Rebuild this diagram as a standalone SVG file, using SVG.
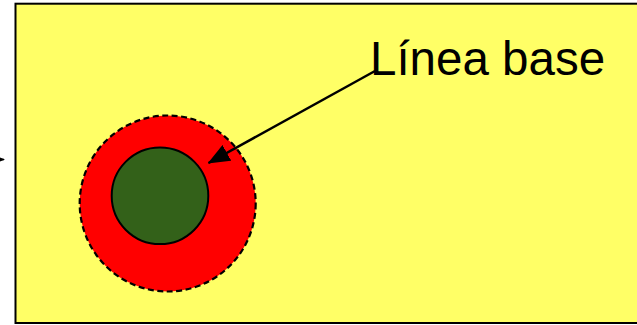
<svg xmlns="http://www.w3.org/2000/svg" width="637" height="325" viewBox="0 0 637 325">
<defs>
<marker id="ah" markerWidth="10" markerHeight="8" refX="9" refY="4" orient="auto" markerUnits="userSpaceOnUse">
<path d="M0,0 L10,4 L0,8 Z" fill="#000"/>
</marker>
<marker id="ah2" markerWidth="22" markerHeight="18" refX="21" refY="9" orient="auto" markerUnits="userSpaceOnUse">
<path d="M0,0 L22,9 L0,18 Z" fill="#000"/>
</marker>
<style>
.lbl{font-family:"Liberation Sans",Arial,sans-serif;font-size:47.5px;fill:#000}
</style>
</defs>
<rect width="637" height="325" fill="#fff"/>
<g id="background">
<rect x="15.5" y="3.7" width="640" height="319.3" fill="#ffff66" stroke="#000" stroke-width="2"/>
</g>
<g id="outer-circle">
<circle cx="167.7" cy="203.5" r="88" fill="#ff0000" stroke="#000" stroke-width="2.2" stroke-dasharray="6,3.5"/>
</g>
<g id="inner-circle">
<circle cx="160" cy="195.8" r="48.3" fill="#336119" stroke="#000" stroke-width="2"/>
</g>
<g id="label">
<text class="lbl" x="370" y="75">Línea base</text>
</g>
<g id="connectors">
<line x1="375" y1="71" x2="208.5" y2="163" stroke="#000" stroke-width="2.5" marker-end="url(#ah2)"/>
<line x1="-10" y1="159.5" x2="4" y2="159.5" stroke="#000" stroke-width="1.5" marker-end="url(#ah)"/>
</g>
</svg>
